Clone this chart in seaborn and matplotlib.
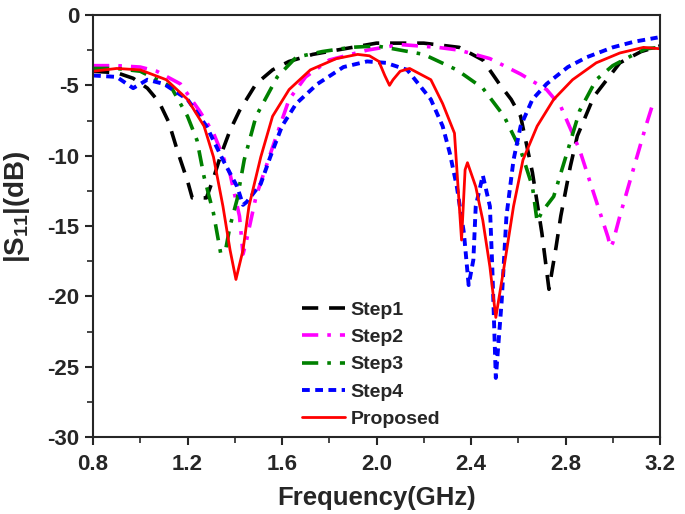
import seaborn as sns
import pandas as pd
import numpy as np
import matplotlib.pyplot as plt
from matplotlib.ticker import MultipleLocator

# values (GHz, dB)
f_step1 = [0.80, 0.90, 0.97, 1.03, 1.08, 1.12, 1.16, 1.20, 1.22, 1.28, 1.31, 1.34, 1.38, 1.42, 1.49,
           1.56, 1.63, 1.73, 1.83, 2.00, 2.20, 2.35, 2.45, 2.52, 2.57, 2.61, 2.66, 2.70, 2.73, 2.76,
           2.78, 2.82, 2.85, 2.92, 3.03, 3.12, 3.20]
s_step1 = [-4.0, -4.1, -4.5, -5.2, -6.2, -7.6, -9.8, -11.8, -13.0, -13.0, -11.6, -10.0, -8.2, -6.8, -4.9,
           -3.9, -3.3, -2.8, -2.5, -2.0, -2.0, -2.3, -3.2, -4.9, -6.0, -7.2, -11.2, -15.5, -19.5, -16.5,
           -14.3, -10.8, -8.6, -5.8, -3.4, -2.6, -2.2]

f_step2 = [0.80, 0.90, 1.00, 1.07, 1.17, 1.25, 1.31, 1.38, 1.42, 1.435, 1.45, 1.49, 1.56, 1.63, 1.70,
           1.80, 1.96, 2.10, 2.26, 2.35, 2.48, 2.61, 2.72, 2.78, 2.86, 2.92, 2.98, 2.99, 3.00, 3.03,
           3.09, 3.14, 3.17]
s_step2 = [-3.6, -3.6, -3.7, -4.0, -4.9, -6.8, -8.4, -11.3, -14.3, -17.0, -16.0, -12.9, -9.4, -6.0, -4.4,
           -3.2, -2.5, -2.1, -2.3, -2.5, -3.1, -4.2, -5.3, -6.5, -9.6, -12.7, -15.8, -16.5, -16.2, -14.3,
           -10.8, -7.9, -6.3]

f_step3 = [0.80, 0.90, 1.00, 1.13, 1.20, 1.24, 1.27, 1.31, 1.34, 1.36, 1.38, 1.41, 1.44, 1.49, 1.58,
           1.66, 1.77, 1.89, 2.00, 2.07, 2.20, 2.34, 2.45, 2.54, 2.61, 2.66, 2.68, 2.70, 2.75, 2.81,
           2.86, 2.93, 3.00, 3.09, 3.14, 3.20]
s_step3 = [-3.8, -3.8, -4.0, -5.1, -7.2, -8.9, -11.5, -14.1, -16.9, -16.8, -15.0, -13.1, -10.3, -7.2, -4.4,
           -3.0, -2.6, -2.3, -2.2, -2.4, -2.8, -3.9, -5.2, -7.2, -9.6, -12.2, -14.7, -14.0, -12.9, -9.6,
           -6.8, -4.6, -3.6, -2.8, -2.4, -2.3]

f_step4 = [0.80, 0.90, 0.97, 1.03, 1.10, 1.20, 1.28, 1.35, 1.41, 1.435, 1.45, 1.51, 1.55, 1.60, 1.66,
           1.75, 1.86, 1.96, 2.04, 2.13, 2.23, 2.28, 2.31, 2.34, 2.37, 2.39, 2.41, 2.42, 2.45, 2.48,
           2.49, 2.505, 2.53, 2.55, 2.58, 2.61, 2.66, 2.72, 2.81, 2.89, 3.00, 3.09, 3.19]
s_step4 = [-4.3, -4.4, -5.2, -4.6, -4.9, -6.0, -7.9, -10.3, -12.2, -13.5, -13.3, -12.0, -10.1, -7.9, -6.3,
           -4.9, -3.7, -3.3, -3.4, -3.9, -6.0, -7.9, -9.8, -12.2, -15.5, -19.2, -17.4, -13.6, -11.4, -13.6,
           -17.9, -25.8, -20.3, -14.3, -10.3, -7.9, -6.0, -4.9, -3.7, -3.0, -2.3, -1.9, -1.6]

f_prop = [0.80, 0.90, 1.00, 1.11, 1.20, 1.27, 1.31, 1.35, 1.38, 1.405, 1.435, 1.46, 1.51, 1.56, 1.63,
          1.72, 1.83, 1.92, 1.97, 2.01, 2.035, 2.055, 2.07, 2.10, 2.14, 2.23, 2.28, 2.33, 2.345, 2.36,
          2.375, 2.385, 2.42, 2.45, 2.48, 2.505, 2.54, 2.58, 2.62, 2.68, 2.75, 2.83, 2.93, 3.03, 3.13,
          3.20]
s_prop = [-4.0, -3.8, -3.9, -4.6, -6.0, -7.9, -10.1, -13.6, -16.7, -18.8, -16.7, -13.6, -10.1, -7.2, -5.3,
          -3.9, -3.1, -2.8, -2.9, -3.3, -4.3, -5.0, -4.6, -4.0, -3.8, -4.6, -6.3, -8.4, -12.2, -16.0,
          -11.0, -10.5, -12.2, -14.6, -17.9, -21.5, -17.9, -13.6, -10.3, -7.9, -6.0, -4.6, -3.4, -2.7, -2.3,
          -2.4]

x_ticks = [0.8, 1.2, 1.6, 2.0, 2.4, 2.8, 3.2]
x_tick_labels = ["0.8", "1.2", "1.6", "2.0", "2.4", "2.8", "3.2"]

series = [
    ("Step1", f_step1, s_step1, "black", (0, (4.5, 3.0)), 2.6),
    ("Step2", f_step2, s_step2, "magenta", (0, (4.5, 2.5, 1.0, 2.5)), 2.6),
    ("Step3", f_step3, s_step3, "green", (0, (4.5, 2.5, 1.0, 2.5)), 2.6),
    ("Step4", f_step4, s_step4, "blue", (0, (2.0, 1.4)), 2.8),
    ("Proposed", f_prop, s_prop, "red", "-", 2.0),
]

sns.set_style("ticks")
plt.rcParams['font.family'] = ['Liberation Sans', 'DejaVu Sans']
plt.rcParams['font.weight'] = 'bold'
plt.rcParams['axes.unicode_minus'] = False
plt.rcParams['mathtext.fontset'] = 'custom'
plt.rcParams['mathtext.rm'] = 'Liberation Sans:bold'
plt.rcParams['mathtext.bf'] = 'Liberation Sans:bold'

fig = plt.figure(figsize=(6.85, 5.14), dpi=100)
ax = fig.add_axes([0.1358, 0.1498, 0.8277, 0.821])

for name, f, s, c, ls, lw in series:
    df = pd.DataFrame({"Frequency": f, "S11": s})
    sns.lineplot(data=df, x="Frequency", y="S11", ax=ax, color=c, linestyle=ls,
                 linewidth=lw, label=name, sort=False)

ax.set_xlim(0.8, 3.2)
ax.set_ylim(-30, 0)
ax.set_xticks(x_ticks)
ax.set_xticklabels(x_tick_labels)
ax.xaxis.set_minor_locator(MultipleLocator(0.2))
ax.yaxis.set_major_locator(MultipleLocator(5))
ax.yaxis.set_minor_locator(MultipleLocator(2.5))
ax.tick_params(which='major', direction='out', length=6, width=1.5, labelsize=16, pad=4)
ax.tick_params(axis='x', which='major', pad=6)
ax.tick_params(which='minor', direction='out', length=4, width=1.2)
for lab in ax.get_xticklabels() + ax.get_yticklabels():
    lab.set_fontweight('bold')
for sp in ax.spines.values():
    sp.set_linewidth(1.5)
    sp.set_visible(True)

ax.set_xlabel("Frequency(GHz)", fontsize=18.5, fontweight='bold', labelpad=8)
ax.set_ylabel(r"|S$_{11}$|(dB)", fontsize=20, fontweight='bold')
ax.yaxis.set_label_coords(-0.108, 0.547)

leg = ax.legend(loc="upper left", bbox_to_anchor=(0.369, 0.322), frameon=False,
                prop={'weight': 'bold', 'size': 14}, handlelength=2.2, labelspacing=0.5,
                handletextpad=0.3, borderpad=0, borderaxespad=0)

fig.savefig("out.png", dpi=100)
